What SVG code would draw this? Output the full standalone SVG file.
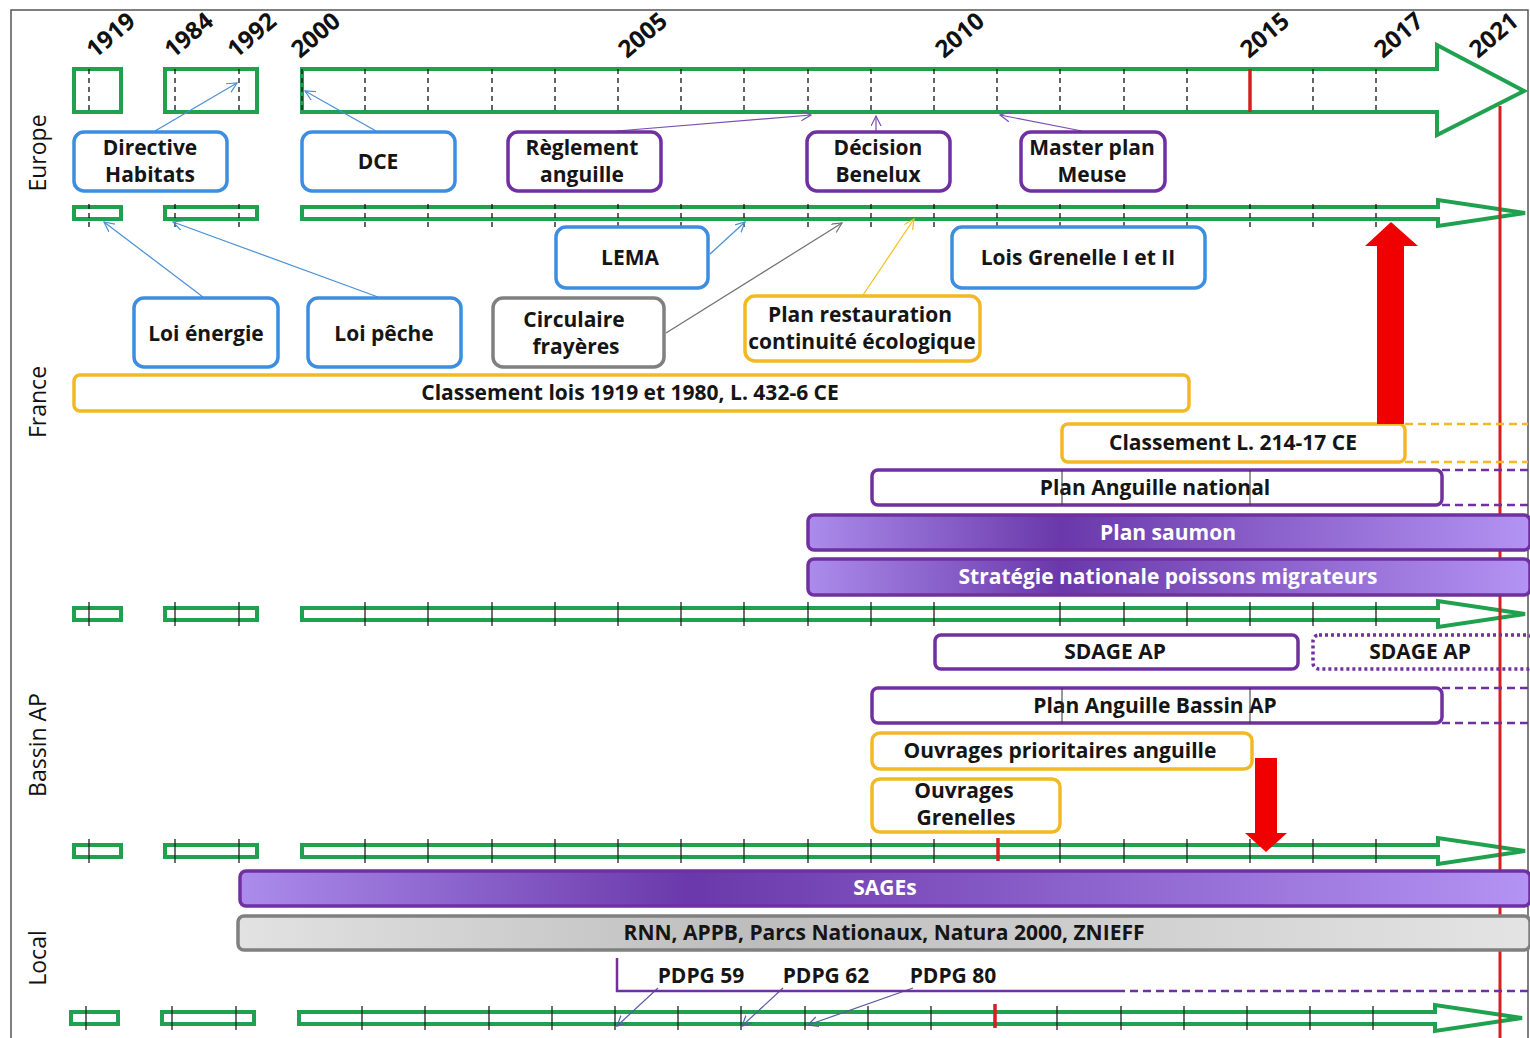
<svg xmlns="http://www.w3.org/2000/svg" width="1530" height="1038" viewBox="0 0 1530 1038">
<style>
.tl{fill:#fff;stroke:#20a14f;stroke-width:4;stroke-linejoin:miter}
.tickd{fill:none;stroke:#111;stroke-width:1.3;stroke-dasharray:5 4}
.ticks{fill:none;stroke:#222;stroke-width:1.3}
.nb{fill:#fff;stroke:#3d8de0;stroke-width:3.5}
.np{fill:#fff;stroke:#7030a0;stroke-width:3.5}
.ny{fill:#fff;stroke:#f2b925;stroke-width:3.5}
.ng{fill:#fff;stroke:#808080;stroke-width:3.5}
.pbar{fill:url(#pg);stroke:#7030a0;stroke-width:3.5}
.gbar{fill:url(#gg);stroke:#808080;stroke-width:3.5}
.t{font-family:"Open Sans",Lato,"Liberation Sans",sans-serif;font-weight:bold;font-size:21px;text-anchor:middle;fill:#151515}
.tw{fill:#fff}
.yr{font-family:"Open Sans",Lato,"Liberation Sans",sans-serif;font-weight:bold;font-size:24px;fill:#111}
.ax{font-family:"Open Sans",Lato,"Liberation Sans",sans-serif;font-size:23px;text-anchor:middle;fill:#111}
.c{fill:none;stroke-width:1.2}
.cb{stroke:#4a8fd6;marker-end:url(#ab)}
.cp{stroke:#7a4fb0;marker-end:url(#ap)}
.cg{stroke:#707070;marker-end:url(#ag)}
.cy{stroke:#f0c020;marker-end:url(#ay)}
.cd{stroke:#5a5aa0;marker-end:url(#ad)}
.ext{fill:none;stroke-width:2.5;stroke-dasharray:8 5}
.inl{stroke:#333;stroke-width:1}
</style>
<defs>
<linearGradient id="pg" x1="0" y1="0" x2="1" y2="0">
<stop offset="0" stop-color="#ab8cec"/>
<stop offset="0.35" stop-color="#6a38aa"/>
<stop offset="1" stop-color="#b393f3"/>
</linearGradient>
<linearGradient id="gg" x1="0" y1="0" x2="1" y2="0">
<stop offset="0" stop-color="#e2e2e2"/>
<stop offset="0.4" stop-color="#bdbdbd"/>
<stop offset="1" stop-color="#e4e4e4"/>
</linearGradient>
<marker id="ab" markerWidth="12" markerHeight="12" refX="10" refY="5" orient="auto" markerUnits="userSpaceOnUse"><path d="M0,0 L10,5 L0,10" fill="none" stroke="#4a8fd6" stroke-width="1.2"/></marker>
<marker id="ap" markerWidth="12" markerHeight="12" refX="10" refY="5" orient="auto" markerUnits="userSpaceOnUse"><path d="M0,0 L10,5 L0,10" fill="none" stroke="#7a4fb0" stroke-width="1.2"/></marker>
<marker id="ag" markerWidth="12" markerHeight="12" refX="10" refY="5" orient="auto" markerUnits="userSpaceOnUse"><path d="M0,0 L10,5 L0,10" fill="none" stroke="#707070" stroke-width="1.2"/></marker>
<marker id="ay" markerWidth="12" markerHeight="12" refX="10" refY="5" orient="auto" markerUnits="userSpaceOnUse"><path d="M0,0 L10,5 L0,10" fill="none" stroke="#f0c020" stroke-width="1.2"/></marker>
<marker id="ad" markerWidth="12" markerHeight="12" refX="10" refY="5" orient="auto" markerUnits="userSpaceOnUse"><path d="M0,0 L10,5 L0,10" fill="none" stroke="#5a5aa0" stroke-width="1.2"/></marker>
<path id="tk43" d="M89 0v43M175 0v43M239 0v43M302 0v43M365 0v43M428 0v43M492 0v43M555 0v43M618 0v43M681 0v43M744 0v43M808 0v43M871 0v43M934 0v43M997 0v43M1060 0v43M1124 0v43M1187 0v43M1313 0v43M1376 0v43"/>
<path id="tk24" d="M89 0v24M175 0v24M239 0v24M365 0v24M428 0v24M492 0v24M555 0v24M618 0v24M681 0v24M744 0v24M808 0v24M871 0v24M934 0v24M997 0v24M1060 0v24M1124 0v24M1187 0v24M1250 0v24M1313 0v24M1376 0v24"/>
<path id="tk24b" d="M89 0v24M175 0v24M239 0v24M365 0v24M428 0v24M492 0v24M555 0v24M618 0v24M681 0v24M744 0v24M808 0v24M871 0v24M934 0v24M1060 0v24M1124 0v24M1187 0v24M1250 0v24M1313 0v24M1376 0v24"/>
<g id="thin">
<rect class="tl" x="74" y="0" width="47" height="12"/>
<rect class="tl" x="165" y="0" width="92" height="12"/>
<polygon class="tl" points="302,0 1438,0 1438,-7 1525,6 1438,19 1438,12 302,12"/>
</g>
</defs>

<rect x="11" y="10" width="1517" height="1040" fill="#fff" stroke="#555" stroke-width="1.5"/>

<g id="years">
<text class="yr" x="95" y="59" transform="rotate(-40 95 59)">1919</text>
<text class="yr" x="173" y="59" transform="rotate(-40 173 59)">1984</text>
<text class="yr" x="236" y="59" transform="rotate(-40 236 59)">1992</text>
<text class="yr" x="300" y="59" transform="rotate(-40 300 59)">2000</text>
<text class="yr" x="627" y="59" transform="rotate(-40 627 59)">2005</text>
<text class="yr" x="944" y="59" transform="rotate(-40 944 59)">2010</text>
<text class="yr" x="1249" y="59" transform="rotate(-40 1249 59)">2015</text>
<text class="yr" x="1383" y="59" transform="rotate(-40 1383 59)">2017</text>
<text class="yr" x="1478" y="59" transform="rotate(-40 1478 59)">2021</text>
</g>

<g id="axes">
<text class="ax" transform="translate(46 153) rotate(-90)">Europe</text>
<text class="ax" transform="translate(46 402) rotate(-90)">France</text>
<text class="ax" transform="translate(46 745) rotate(-90)">Bassin AP</text>
<text class="ax" transform="translate(46 958) rotate(-90)">Local</text>
</g>

<g id="timelines">
<rect class="tl" x="74" y="69" width="47" height="43"/>
<rect class="tl" x="165" y="69" width="92" height="43"/>
<polygon class="tl" points="302,69 1437,69 1437,45 1524,91 1437,135 1437,112 302,112"/>
<use href="#tk43" class="tickd" transform="translate(0 69)"/>
<line x1="1250" y1="69" x2="1250" y2="112" stroke="#d42020" stroke-width="3.5"/>

<use href="#thin" transform="translate(0 207)"/>
<use href="#tk24" class="tickd" transform="translate(0 204)"/>

<use href="#thin" transform="translate(0 608)"/>
<use href="#tk24b" class="ticks" transform="translate(0 602)"/>

<use href="#thin" transform="translate(0 845)"/>
<use href="#tk24b" class="ticks" transform="translate(0 839)"/>
<line x1="998" y1="838" x2="998" y2="861" stroke="#d42020" stroke-width="3.5"/>

<use href="#thin" transform="translate(-3 1012)"/>
<use href="#tk24b" class="ticks" transform="translate(-3 1006)"/>
<line x1="995" y1="1004" x2="995" y2="1028" stroke="#d42020" stroke-width="3.5"/>
</g>

<line id="line2021" x1="1500" y1="106" x2="1500" y2="1038" stroke="#d42020" stroke-width="3"/>

<g id="connectors">
<line class="c cb" x1="155" y1="131" x2="237" y2="83"/>
<line class="c cb" x1="376" y1="131" x2="305" y2="91"/>
<line class="c cp" x1="617" y1="131" x2="811" y2="115"/>
<line class="c cp" x1="876" y1="131" x2="876" y2="116"/>
<line class="c cp" x1="1082" y1="131" x2="1000" y2="115"/>
<line class="c cb" x1="710" y1="254" x2="745" y2="222"/>
<line class="c cb" x1="203" y1="297" x2="104" y2="222"/>
<line class="c cb" x1="378" y1="297" x2="173" y2="222"/>
<line class="c cg" x1="666" y1="333" x2="842" y2="223"/>
<line class="c cy" x1="863" y1="295" x2="914" y2="219"/>
<line class="c cd" x1="658" y1="988" x2="617" y2="1026"/>
<line class="c cd" x1="783" y1="988" x2="742" y2="1026"/>
<line class="c cd" x1="913" y1="988" x2="808" y2="1025"/>
<path d="M617 958V991H1125" fill="none" stroke="#7030a0" stroke-width="2.5"/>
<path d="M1130 991H1528" class="ext" stroke="#7030a0" stroke-width="2"/>
</g>

<g id="n-directive"><rect class="nb" x="74" y="132" width="153" height="59" rx="10"/><text class="t" x="150" y="155">Directive</text><text class="t" x="150" y="182">Habitats</text></g>
<g id="n-dce"><rect class="nb" x="302" y="132" width="153" height="59" rx="10"/><text class="t" x="378" y="169">DCE</text></g>
<g id="n-reglement"><rect class="np" x="508" y="132" width="153" height="59" rx="10"/><text class="t" x="582" y="155">Règlement</text><text class="t" x="582" y="182">anguille</text></g>
<g id="n-benelux"><rect class="np" x="807" y="132" width="143" height="59" rx="10"/><text class="t" x="878" y="155">Décision</text><text class="t" x="878" y="182">Benelux</text></g>
<g id="n-meuse"><rect class="np" x="1021" y="132" width="144" height="59" rx="10"/><text class="t" x="1092" y="155">Master plan</text><text class="t" x="1092" y="182">Meuse</text></g>

<g id="n-lema"><rect class="nb" x="556" y="227" width="152" height="61" rx="10"/><text class="t" x="630" y="265">LEMA</text></g>
<g id="n-grenelle"><rect class="nb" x="952" y="227" width="253" height="61" rx="10"/><text class="t" x="1078" y="265">Lois Grenelle I et II</text></g>
<g id="n-energie"><rect class="nb" x="134" y="298" width="144" height="69" rx="10"/><text class="t" x="206" y="341">Loi énergie</text></g>
<g id="n-peche"><rect class="nb" x="308" y="298" width="153" height="69" rx="10"/><text class="t" x="384" y="341">Loi pêche</text></g>
<g id="n-circulaire"><rect class="ng" x="493" y="298" width="171" height="69" rx="10"/><text class="t" x="574" y="327">Circulaire</text><text class="t" x="576" y="354">frayères</text></g>
<g id="n-restauration"><rect class="ny" x="745" y="296" width="235" height="65" rx="10"/><text class="t" x="860" y="322">Plan restauration</text><text class="t" x="862" y="349">continuité écologique</text></g>

<g id="n-classement1919"><rect class="ny" x="74" y="375" width="1115" height="36" rx="6"/><text class="t" x="630" y="400">Classement lois 1919 et 1980, L. 432-6 CE</text></g>
<g id="n-classement214"><path d="M1405 424H1528M1405 462H1528" class="ext" stroke="#f2b925"/><rect class="ny" x="1062" y="424" width="343" height="38" rx="6"/><text class="t" x="1233" y="450">Classement L. 214-17 CE</text></g>
<g id="n-anguillenat"><path d="M1442 470H1528M1442 505H1528" class="ext" stroke="#7030a0"/><rect class="np" x="872" y="470" width="570" height="35" rx="6"/><text class="t" x="1155" y="495">Plan Anguille national</text><path class="inl" d="M1062 470V505M1250 470V505"/></g>
<g id="n-saumon"><rect class="pbar" x="808" y="515" width="722" height="35" rx="6"/><text class="t tw" x="1168" y="540">Plan saumon</text></g>
<g id="n-strategie"><rect class="pbar" x="808" y="559" width="722" height="36" rx="6"/><text class="t tw" x="1168" y="584">Stratégie nationale poissons migrateurs</text></g>

<g id="n-sdage1"><rect class="np" x="935" y="635" width="363" height="34" rx="6"/><text class="t" x="1115" y="659">SDAGE AP</text></g>
<g id="n-sdage2"><rect x="1313" y="635" width="220" height="34" rx="6" fill="none" stroke="#7030a0" stroke-width="3.5" stroke-dasharray="3 3"/><text class="t" x="1420" y="659">SDAGE AP</text></g>
<g id="n-anguillebassin"><path d="M1442 688H1528M1442 723H1528" class="ext" stroke="#7030a0"/><rect class="np" x="872" y="688" width="570" height="35" rx="6"/><text class="t" x="1155" y="713">Plan Anguille Bassin AP</text><path class="inl" d="M1062 688V723M1250 688V723"/></g>
<g id="n-ouvrages-prio"><rect class="ny" x="872" y="733" width="380" height="36" rx="8"/><text class="t" x="1060" y="758">Ouvrages prioritaires anguille</text></g>
<g id="n-ouvrages-gren"><rect class="ny" x="872" y="779" width="188" height="53" rx="8"/><text class="t" x="964" y="798">Ouvrages</text><text class="t" x="966" y="825">Grenelles</text></g>

<g id="n-sages"><rect class="pbar" x="240" y="871" width="1290" height="35" rx="6"/><text class="t tw" x="885" y="895">SAGEs</text></g>
<g id="n-rnn"><rect class="gbar" x="238" y="916" width="1292" height="34" rx="6"/><text class="t" x="884" y="940">RNN, APPB, Parcs Nationaux, Natura 2000, ZNIEFF</text></g>

<g id="n-pdpg">
<text class="t" x="701" y="983">PDPG 59</text>
<text class="t" x="826" y="983">PDPG 62</text>
<text class="t" x="953" y="983">PDPG 80</text>
</g>

<g id="red-arrows">
<polygon points="1377,424 1377,246 1365,246 1391,222 1418,246 1404,246 1404,424" fill="#f00000"/>
<polygon points="1255,758 1277,758 1277,833 1287,833 1266,852 1245,833 1255,833" fill="#f00000"/>
</g>
</svg>
